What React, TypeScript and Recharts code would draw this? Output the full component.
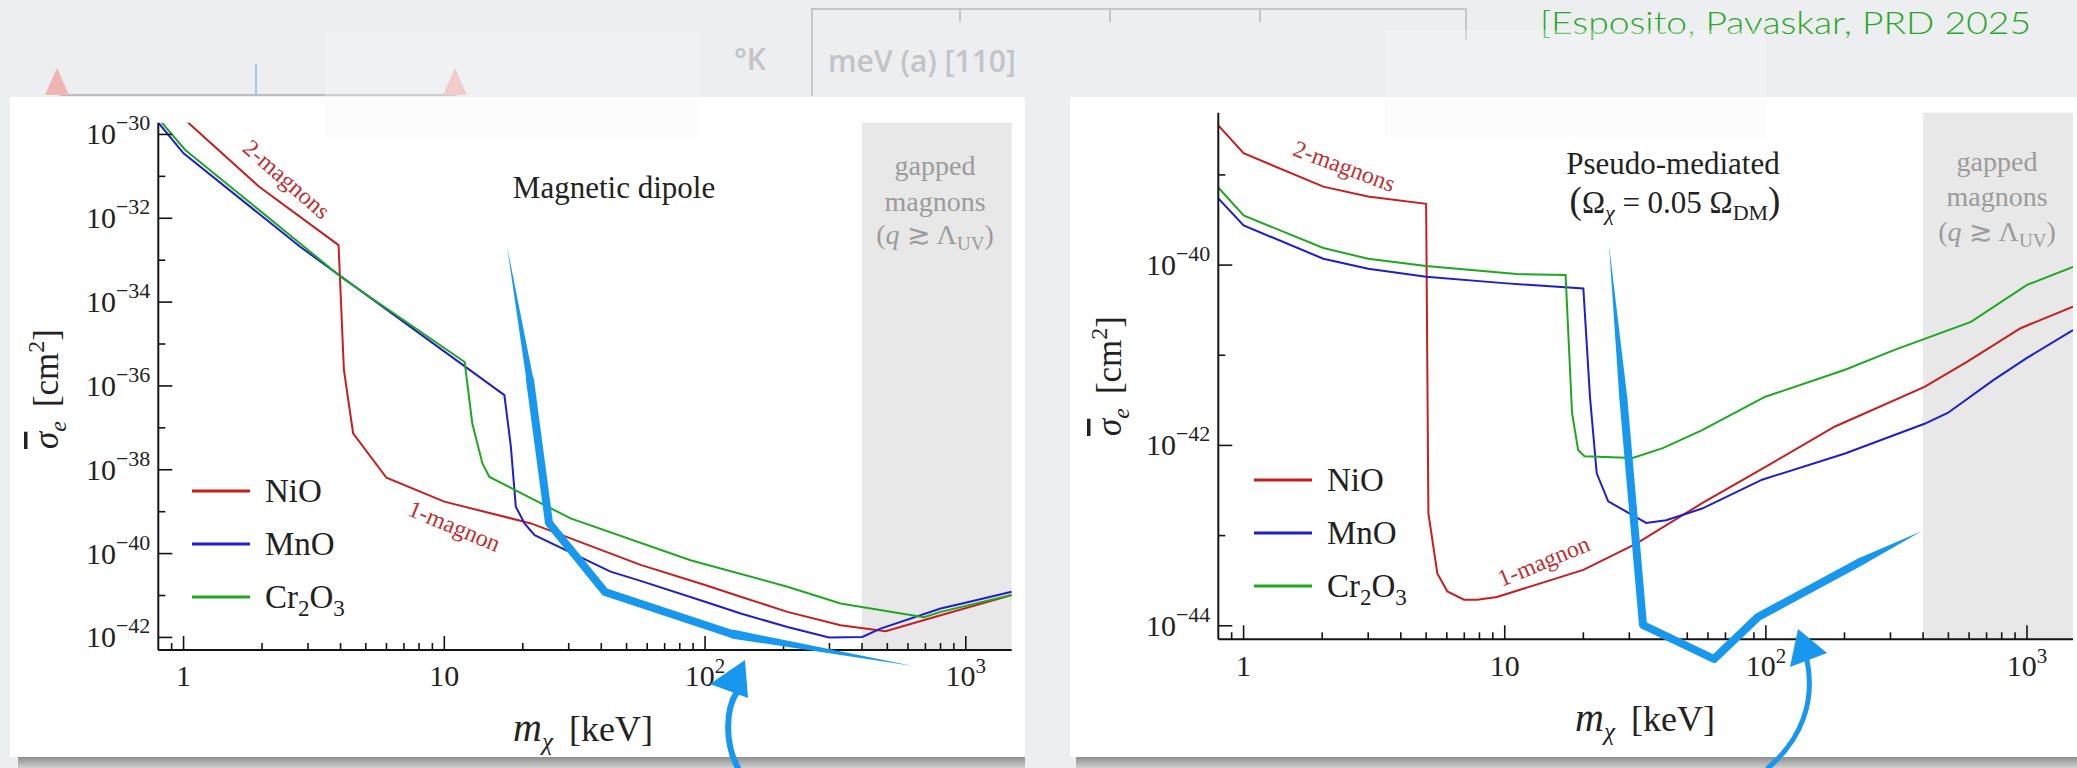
import { LineChart, Line, XAxis, YAxis, ReferenceArea } from 'recharts';

// ---- shared mass axis (keV) ----
const MASS_TICKS = [0.9, 1, 2, 3, 4, 5, 6, 7, 8, 9, 10, 20, 30, 40, 50, 60, 70, 80, 90, 100, 200, 300, 400, 500, 600, 700, 800, 900, 1000];
const MASS_DOMAIN = [0.8, 1500];
const GAP_RANGE = [400, 1500]; // gapped magnons (q >~ Lambda_UV)

// ---- cross-section axes (cm^2) ----
const DIPOLE_SIGMA_TICKS = [1e-42, 1e-41, 1e-40, 1e-39, 1e-38, 1e-37, 1e-36, 1e-35, 1e-34, 1e-33, 1e-32, 1e-31, 1e-30];
const DIPOLE_SIGMA_EXP_RANGE = [-42.3, -29.72];
const PSEUDO_SIGMA_TICKS = [1e-44, 1e-43, 1e-42, 1e-41, 1e-40, 1e-39];
const PSEUDO_SIGMA_EXP_RANGE = [-44.15, -38.31];

// ---- magnetic dipole reach: mass (keV) and log10 sigma_e ----
const DIP_NIO_M = [1.0, 1.95, 3.93, 4.12, 4.47, 6.0, 10, 21.5, 56.6, 100, 137, 207, 331, 493, 801, 1500];
const DIP_NIO_EXP = [-29.62, -31.25, -32.64, -35.62, -37.13, -38.19, -38.76, -39.28, -40.27, -40.75, -41.03, -41.39, -41.71, -41.85, -41.47, -40.99];

const DIP_MNO_M = [0.8, 1.0, 2.8, 17.0, 18.0, 18.8, 20.3, 22.2, 43.4, 56.6, 100, 137, 207, 299, 401, 471, 801, 969, 1500];
const DIP_MNO_EXP = [-29.72, -30.45, -32.68, -36.22, -37.45, -38.88, -39.28, -39.56, -40.43, -40.65, -41.15, -41.43, -41.75, -42.0, -41.99, -41.79, -41.31, -41.19, -40.91];

const DIP_CR2O3_M = [0.8, 1.015, 2.8, 4.05, 11.97, 12.8, 14.0, 14.9, 20.3, 30.5, 87.9, 207, 331, 691, 801, 1500];
const DIP_CR2O3_EXP = [-29.62, -30.37, -32.6, -33.42, -35.43, -36.89, -37.85, -38.17, -38.6, -39.16, -40.16, -40.79, -41.19, -41.52, -41.39, -40.99];

// ---- pseudo-mediated reach (Omega_chi = 0.05 Omega_DM) ----
const PS_NIO_M = [0.8, 1.0, 2.02, 2.99, 5.0, 5.1, 5.52, 6.03, 6.98, 7.85, 9.34, 20, 31.9, 57, 102, 184, 405, 591, 945, 1500];
const PS_NIO_EXP = [-38.45, -38.76, -39.13, -39.24, -39.32, -42.75, -43.42, -43.62, -43.71, -43.71, -43.68, -43.38, -43.09, -42.64, -42.22, -41.79, -41.35, -41.07, -40.7, -40.46];

const PS_MNO_M = [0.8, 1.0, 2.02, 3.0, 5.0, 9.9, 20, 21.2, 22.5, 24.9, 34.8, 41.5, 57, 96.7, 201, 405, 497, 748, 1000, 1500];
const PS_MNO_EXP = [-39.26, -39.56, -39.93, -40.04, -40.13, -40.2, -40.26, -41.46, -42.31, -42.62, -42.86, -42.83, -42.7, -42.38, -42.09, -41.76, -41.64, -41.27, -41.03, -40.72];

const PS_CR2O3_M = [0.8, 1.0, 2.02, 3.0, 5.0, 11.1, 17.1, 18.1, 19.1, 20.2, 30.9, 40.3, 57, 99.5, 201, 311, 610, 1000, 1500];
const PS_CR2O3_EXP = [-39.14, -39.45, -39.81, -39.93, -40.01, -40.1, -40.11, -41.64, -42.05, -42.12, -42.14, -42.03, -41.83, -41.46, -41.16, -40.94, -40.63, -40.22, -40.02];

const SERIF = '"Liberation Serif", "DejaVu Serif", serif';
const INK = '#141414';
const TEXT = '#222';
const RED = '#c81e1e';
const BLUE = '#1e1ecf';
const GREEN = '#1fa81f';
const LABEL_RED = '#bf3030';
const GAP_GRAY = '#e8e8e8';
const ACCENT = '#1798ee';
const AXIS_LINE = { stroke: INK, strokeWidth: 2 };

const rows = (m: number[], e: number[]) => m.map((x, i) => ({ m: x, s: 10 ** e[i] }));

const isDecade = (v: number) => {
  const l = Math.log10(v);
  return Math.abs(l - Math.round(l)) < 1e-6;
};
const expOf = (v: number) => Math.round(Math.log10(v));

const massLabel = (v: number) =>
  v < 100 ? String(v) : (
    <>
      10<tspan dy={-13} fontSize={21}>{expOf(v)}</tspan>
    </>
  );

const bottomTick = (labelGap: number) => (p: any) => {
  const v = p.payload.value;
  const major = isDecade(v);
  return (
    <g>
      <line x1={p.x} x2={p.x} y1={p.y} y2={p.y - (major ? 14 : 7)} stroke={INK} strokeWidth={1.6} />
      {major && (
        <text x={p.x} y={p.y + labelGap} textAnchor="middle" fontFamily={SERIF} fontSize={30} fill={TEXT}>
          {massLabel(v)}
        </text>
      )}
    </g>
  );
};

const topTick = (p: any) => {
  const major = isDecade(p.payload.value);
  return <line x1={p.x} x2={p.x} y1={p.y} y2={p.y + (major ? 14 : 7)} stroke={INK} strokeWidth={1.6} />;
};

const leftTick = (p: any) => {
  const e = expOf(p.payload.value);
  const major = e % 2 === 0;
  return (
    <g>
      <line x1={p.x} x2={p.x + (major ? 14 : 7)} y1={p.y} y2={p.y} stroke={INK} strokeWidth={1.6} />
      {major && (
        <text x={p.x - 8} y={p.y + 10} textAnchor="end" fontFamily={SERIF} fontSize={30} fill={TEXT}>
          10<tspan dy={-14} fontSize={22}>{'\u2212' + Math.abs(e)}</tspan>
        </text>
      )}
    </g>
  );
};

const rightTick = (p: any) => {
  const major = expOf(p.payload.value) % 2 === 0;
  return <line x1={p.x} x2={p.x - (major ? 14 : 7)} y1={p.y} y2={p.y} stroke={INK} strokeWidth={1.6} />;
};

interface PanelProps {
  width: number;
  margin: { top: number; right: number; bottom: number; left: number };
  yWidth: number;
  xHeight: number;
  labelGap: number;
  yExpRange: number[];
  yTicks: number[];
  series: { name: string; color: string; data: { m: number; s: number }[] }[];
}

function ReachPanel({ width, margin, yWidth, xHeight, labelGap, yExpRange, yTicks, series }: PanelProps) {
  const yDomain = [10 ** yExpRange[0], 10 ** yExpRange[1]];
  return (
    <LineChart width={width} height={768} margin={margin}>
      <XAxis xAxisId="b" type="number" dataKey="m" scale="log" domain={MASS_DOMAIN} allowDataOverflow ticks={MASS_TICKS}
        interval={0} height={xHeight} tickSize={0} tickMargin={0} tickLine={false} axisLine={AXIS_LINE} tick={bottomTick(labelGap)} />
      <XAxis xAxisId="t" orientation="top" type="number" dataKey="m" scale="log" domain={MASS_DOMAIN} allowDataOverflow ticks={MASS_TICKS}
        interval={0} height={0} tickSize={0} tickMargin={0} tickLine={false} axisLine={AXIS_LINE} tick={topTick} />
      <YAxis yAxisId="l" type="number" dataKey="s" scale="log" domain={yDomain} allowDataOverflow ticks={yTicks}
        interval={0} width={yWidth} tickSize={0} tickMargin={0} tickLine={false} axisLine={AXIS_LINE} tick={leftTick} />
      <YAxis yAxisId="r" orientation="right" type="number" dataKey="s" scale="log" domain={yDomain} allowDataOverflow ticks={yTicks}
        interval={0} width={0} tickSize={0} tickMargin={0} tickLine={false} axisLine={AXIS_LINE} tick={rightTick} />
      <ReferenceArea xAxisId="b" yAxisId="l" x1={GAP_RANGE[0]} x2={GAP_RANGE[1]} fill={GAP_GRAY} fillOpacity={1} stroke="none" />
      {series.map((s) => (
        <Line key={s.name} xAxisId="b" yAxisId="l" data={s.data} dataKey="s" name={s.name} type="linear"
          stroke={s.color} strokeWidth={2} dot={false} isAnimationActive={false} />
      ))}
    </LineChart>
  );
}

function Legend({ x, y }: { x: number; y: number }) {
  const items = [
    { color: RED, label: <tspan>NiO</tspan> },
    { color: BLUE, label: <tspan>MnO</tspan> },
    {
      color: GREEN,
      label: (
        <>
          Cr<tspan dy={8} fontSize={23}>2</tspan>
          <tspan dy={-8}>O</tspan>
          <tspan dy={8} fontSize={23}>3</tspan>
        </>
      ),
    },
  ];
  return (
    <g>
      {items.map((it, i) => (
        <g key={i}>
          <line x1={x} x2={x + 58} y1={y + i * 53} y2={y + i * 53} stroke={it.color} strokeWidth={3} />
          <text x={x + 73} y={y + i * 53 + 11} fontFamily={SERIF} fontSize={33} fill={TEXT}>{it.label}</text>
        </g>
      ))}
    </g>
  );
}

function GapNote({ cx, y }: { cx: number; y: number[] }) {
  return (
    <g fontFamily={SERIF} fontSize={28} fill="#9b9b9b" textAnchor="middle">
      <text x={cx} y={y[0]}>gapped</text>
      <text x={cx} y={y[1]}>magnons</text>
      <text x={cx} y={y[2]}>
        (<tspan fontStyle="italic">q</tspan> {'\u2273'} {'\u039B'}<tspan dy={6} fontSize={19}>UV</tspan><tspan dy={-6}>)</tspan>
      </text>
    </g>
  );
}

function AxisTitles({ cx, xBase, yx, yc }: { cx: number; xBase: number; yx: number; yc: number }) {
  return (
    <g fontFamily={SERIF} fill={TEXT}>
      <text x={cx} y={xBase} textAnchor="middle" fontSize={36}>
        <tspan fontStyle="italic" fontSize={40}>m</tspan>
        <tspan dy={9} fontSize={25} fontStyle="italic">{'\u03C7'}</tspan>
        <tspan dy={-9} dx={16}>[keV]</tspan>
      </text>
      <text transform={`translate(${yx},${yc}) rotate(-90)`} textAnchor="middle" fontSize={35}>
        <tspan fontStyle="italic" style={{ textDecoration: 'overline' }}>{'\u03C3'}</tspan>
        <tspan dy={8} fontSize={24} fontStyle="italic">e</tspan>
        <tspan dy={-8} dx={14}>[cm</tspan>
        <tspan dy={-14} fontSize={24}>2</tspan>
        <tspan dy={14}>]</tspan>
      </text>
    </g>
  );
}

export default function App() {
  const dipoleSeries = [
    { name: 'NiO', color: RED, data: rows(DIP_NIO_M, DIP_NIO_EXP) },
    { name: 'MnO', color: BLUE, data: rows(DIP_MNO_M, DIP_MNO_EXP) },
    { name: 'Cr2O3', color: GREEN, data: rows(DIP_CR2O3_M, DIP_CR2O3_EXP) },
  ];
  const pseudoSeries = [
    { name: 'NiO', color: RED, data: rows(PS_NIO_M, PS_NIO_EXP) },
    { name: 'MnO', color: BLUE, data: rows(PS_MNO_M, PS_MNO_EXP) },
    { name: 'Cr2O3', color: GREEN, data: rows(PS_CR2O3_M, PS_CR2O3_EXP) },
  ];

  return (
    <div style={{ position: 'relative', width: 2077, height: 768, overflow: 'hidden', background: '#eceef0' }}>
      <style>{'body{margin:0}'}</style>

      {/* faint sketch in the slide background */}
      <svg width={2077} height={768} style={{ position: 'absolute', left: 0, top: 0 }}>
        <g stroke="#c4c6c9" strokeWidth={2} fill="none">
          <polyline points="812,96 812,9 1466,9 1466,40" />
          <line x1={960} x2={960} y1={9} y2={22} />
          <line x1={1110} x2={1110} y1={9} y2={22} />
          <line x1={1260} x2={1260} y1={9} y2={22} />
          <line x1={60} x2={457} y1={95} y2={95} stroke="#b9bbbe" />
        </g>
        <g fill="#f0b4b4">
          <polygon points="45,95 57,68 69,95" />
          <polygon points="443,95 455,68 467,95" />
        </g>
        <line x1={256} x2={256} y1={64} y2={95} stroke="#9cc8ee" strokeWidth={2} />
        <g fontFamily='"Open Sans", sans-serif' fill="#c2c4c7" fontSize={30} fontWeight={600}>
          <text x={734} y={70}>°K</text>
          <text x={828} y={72}>meV  (a) [110]</text>
        </g>
        <text x={1540} y={34} fontFamily='Lato, "Open Sans", sans-serif' fontWeight={300} fontSize={32} fill="#2aa62a"
          textLength={491} lengthAdjust="spacingAndGlyphs">[Esposito, Pavaskar, PRD 2025</text>
      </svg>

      {/* white figure panels with a shadow strip below */}
      <div style={{ position: 'absolute', left: 10, top: 97, width: 1015, height: 660, background: '#fff' }} />
      <div style={{ position: 'absolute', left: 1070, top: 97, width: 1007, height: 660, background: '#fff' }} />
      <div style={{ position: 'absolute', left: 18, top: 757, width: 1007, height: 11, background: 'linear-gradient(#8e8e8e, #d0d0d0)' }} />
      <div style={{ position: 'absolute', left: 1076, top: 757, width: 1001, height: 11, background: 'linear-gradient(#8e8e8e, #d0d0d0)' }} />

      <div style={{ position: 'absolute', left: 0, top: 0 }}>
        <ReachPanel width={1040} margin={{ top: 122.7, right: 28.3, bottom: 0, left: 0 }} yWidth={158.3} xHeight={118}
          labelGap={36} yExpRange={DIPOLE_SIGMA_EXP_RANGE} yTicks={DIPOLE_SIGMA_TICKS} series={dipoleSeries} />
      </div>
      <div style={{ position: 'absolute', left: 1040, top: 0 }}>
        <ReachPanel width={1037} margin={{ top: 112.7, right: 4, bottom: 0, left: 0 }} yWidth={178.3} xHeight={128.7}
          labelGap={37} yExpRange={PSEUDO_SIGMA_EXP_RANGE} yTicks={PSEUDO_SIGMA_TICKS} series={pseudoSeries} />
      </div>

      {/* tape patches from the slide background */}
      <div style={{ position: 'absolute', left: 325, top: 32, width: 375, height: 105, background: 'rgba(246,247,248,0.35)' }} />
      <div style={{ position: 'absolute', left: 1385, top: 30, width: 381, height: 107, background: 'rgba(246,247,248,0.35)' }} />

      {/* annotations */}
      <svg width={2077} height={768} style={{ position: 'absolute', left: 0, top: 0, pointerEvents: 'none' }}>
        <text x={614} y={198} textAnchor="middle" fontFamily={SERIF} fontSize={31} fill={TEXT}>Magnetic dipole</text>
        <g fontFamily={SERIF} fontSize={31} fill={TEXT} textAnchor="middle">
          <text x={1673} y={174}>Pseudo-mediated</text>
          <text x={1675} y={213}>
            <tspan fontSize={37}>(</tspan>Ω<tspan dy={7} fontSize={22} fontStyle="italic">{'\u03C7'}</tspan>
            <tspan dy={-7}> = 0.05 Ω</tspan><tspan dy={7} fontSize={22}>DM</tspan>
            <tspan dy={-7} fontSize={37}>)</tspan>
          </text>
        </g>

        <g fontFamily={SERIF} fontSize={24} fill={LABEL_RED} textAnchor="middle">
          <text transform="translate(286,180) rotate(41)" y={7}>2-magnons</text>
          <text transform="translate(454,527) rotate(22.7)" y={7}>1-magnon</text>
          <text transform="translate(1344,167) rotate(20.5)" y={7}>2-magnons</text>
          <text transform="translate(1544,562) rotate(-22.5)" y={7}>1-magnon</text>
        </g>

        <GapNote cx={935} y={[175, 211, 244]} />
        <GapNote cx={1997} y={[171, 206, 241]} />

        <Legend x={192} y={491} />
        <Legend x={1254} y={480} />

        <AxisTitles cx={583} xBase={741} yx={58} yc={389} />
        <AxisTitles cx={1645} xBase={731} yx={1121} yc={376} />

        {/* hand-drawn highlight strokes */}
        <g fill={ACCENT}>
          <polygon points="507,246 533.5,379.4 526.5,380.6" />
          <polygon points="732.8,629.6 913,666 731.2,638.4" />
          <polygon points="745,660 710,684 748,698" />
          <polygon points="1609,245 1627.5,399.6 1619.5,400.4" />
          <polygon points="1858.2,558.4 1922,531 1861.8,565.6" />
          <polygon points="1798,629 1790,667 1827,653" />
        </g>
        <g fill="none" stroke={ACCENT} strokeLinejoin="round" strokeLinecap="round">
          <polyline points="530,380 549,523 605,592 732,634" strokeWidth={8} />
          <path d="M737,692 C726,708 724,742 738,768" strokeWidth={6} />
          <polyline points="1623.5,400 1643,625 1714,659 1758,617 1860,562" strokeWidth={8} />
          <path d="M1807,660 C1815,700 1803,738 1768,768" strokeWidth={5} />
        </g>
      </svg>
    </div>
  );
}
